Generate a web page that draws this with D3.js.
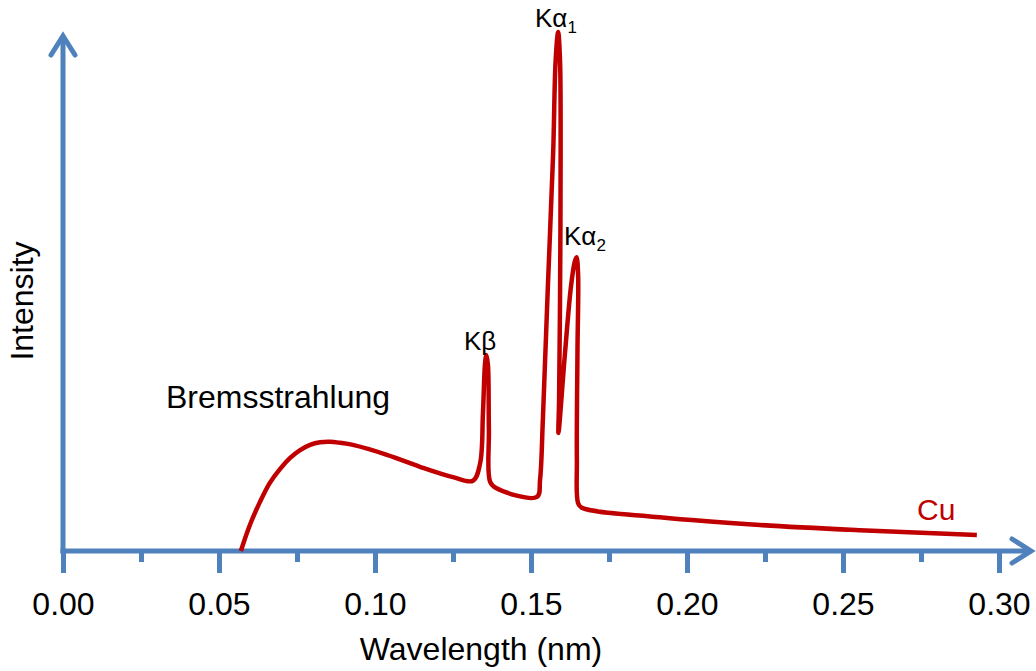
<!DOCTYPE html>
<html>
<head>
<meta charset="utf-8">
<script src="https://cdn.jsdelivr.net/npm/d3@7"></script>
<style>
  html, body { margin: 0; padding: 0; background: #fff; }
  svg { display: block; font-family: "Liberation Sans", Arial, sans-serif; }
</style>
</head>
<body>
<svg id="chart" width="1036" height="671"></svg>
<script>
// Wavelength (nm) and relative intensity
const wavelength = [0.0570, 0.0599, 0.0631, 0.0663, 0.0696, 0.0728, 0.0760, 0.0792, 0.0824, 0.0856, 0.0888,
  0.0929, 0.1038, 0.1144, 0.1250, 0.1314,
  0.1337, 0.1346, 0.1353, 0.1357, 0.1362, 0.1365, 0.1369, 0.1388, 0.1519,
  0.1529, 0.1538, 0.1554, 0.1571, 0.1579, 0.1587, 0.1593, 0.1595, 0.1593, 0.1590, 0.1588,
  0.1609, 0.1628, 0.1640, 0.1646, 0.1651, 0.1649, 0.1647, 0.1651, 0.1663,
  0.1913, 0.2234, 0.2554, 0.2929];
const intensity = [0.0, 5.0, 9.4, 13.1, 15.8, 17.9, 19.4, 20.4, 20.9, 21.0, 20.8,
  20.4, 18.5, 16.2, 14.2, 13.5,
  16.9, 26.5, 36.3, 37.7, 35.8, 23.3, 13.3, 12.1, 10.4,
  13.7, 25.2, 50.8, 76.5, 94.4, 99.8, 94.4, 77.1, 48.3, 29.0, 22.7,
  38.1, 50.8, 55.6, 56.5, 53.1, 38.7, 17.5, 9.2, 8.3,
  6.5, 5.0, 4.0, 3.1];
const majorTicks = [0.00, 0.05, 0.10, 0.15, 0.20, 0.25, 0.30];
const minorTicks = [0.025, 0.075, 0.125, 0.175, 0.225, 0.275];
const peakLabels = [
  { name: "Kβ", sub: "" },
  { name: "Kα", sub: "1" },
  { name: "Kα", sub: "2" }
];

const svg = d3.select("#chart");
const axisColor = "#4F81BD";
const red = "#C00000";

const x = d3.scaleLinear().domain([0, 0.30]).range([63, 999]);
const y = d3.scaleLinear().domain([0, 100]).range([551, 31]);

// minor ticks
const minorAxis = d3.axisBottom(x).tickValues(minorTicks).tickSize(11).tickFormat("");
const gMinor = svg.append("g").attr("transform", `translate(0,${y(0)})`).call(minorAxis);
gMinor.select(".domain").remove();
gMinor.selectAll(".tick line").attr("stroke", axisColor).attr("stroke-width", 5);

// major ticks + labels
const majorAxis = d3.axisBottom(x).tickValues(majorTicks).tickSize(22).tickFormat(d3.format(".2f"));
const gMajor = svg.append("g").attr("transform", `translate(0,${y(0)})`).call(majorAxis);
gMajor.select(".domain").remove();
gMajor.selectAll(".tick line").attr("stroke", axisColor).attr("stroke-width", 5);
gMajor.selectAll(".tick text")
  .attr("y", 64).attr("dy", 0)
  .attr("fill", "#000")
  .style("font-size", "32px")
  .style("font-family", "'Liberation Sans', Arial, sans-serif");

// axis lines with open arrowheads
const x0 = x(0), yb = y(0);
svg.append("line").attr("x1", x0 - 2.5).attr("y1", yb).attr("x2", 1030).attr("y2", yb)
  .attr("stroke", axisColor).attr("stroke-width", 5);
svg.append("line").attr("x1", x0).attr("y1", yb + 2.5).attr("x2", x0).attr("y2", 37)
  .attr("stroke", axisColor).attr("stroke-width", 5);
svg.append("path").attr("d", `M${1012},${yb - 12}L${1031},${yb}L${1012},${yb + 12}`)
  .attr("fill", "none").attr("stroke", axisColor).attr("stroke-width", 5)
  .attr("stroke-linejoin", "miter").attr("stroke-linecap", "round");
svg.append("path").attr("d", `M${x0 - 12},${55}L${x0},${36}L${x0 + 12},${55}`)
  .attr("fill", "none").attr("stroke", axisColor).attr("stroke-width", 5)
  .attr("stroke-linejoin", "miter").attr("stroke-linecap", "round");

// spectrum curve
const pts = wavelength.map((w, i) => [w, intensity[i]]);
const line = d3.line().x(d => x(d[0])).y(d => y(d[1])).curve(d3.curveCatmullRom.alpha(0.5));
svg.append("path").datum(pts).attr("d", line)
  .attr("fill", "none").attr("stroke", red).attr("stroke-width", 4.5)
  .attr("stroke-linejoin", "round").attr("stroke-linecap", "butt");

// axis titles
svg.append("text").attr("x", 481).attr("y", 660).attr("text-anchor", "middle")
  .style("font-size", "32px").text("Wavelength (nm)");
svg.append("text").attr("transform", "translate(33,301) rotate(-90)").attr("text-anchor", "middle")
  .style("font-size", "32px").text("Intensity");

// annotations
svg.append("text").attr("x", 166).attr("y", 408).style("font-size", "32px").text("Bremsstrahlung");
svg.append("text").attr("x", 917).attr("y", 520).attr("fill", red).style("font-size", "30px").text("Cu");

const labelPos = [[464, 350], [535, 27], [564, 245]];
peakLabels.forEach((p, i) => {
  const t = svg.append("text").attr("x", labelPos[i][0]).attr("y", labelPos[i][1]).style("font-size", "26px");
  t.append("tspan").text(p.name);
  if (p.sub) t.append("tspan").attr("dy", 6).style("font-size", "17px").text(p.sub);
});
</script>
</body>
</html>
